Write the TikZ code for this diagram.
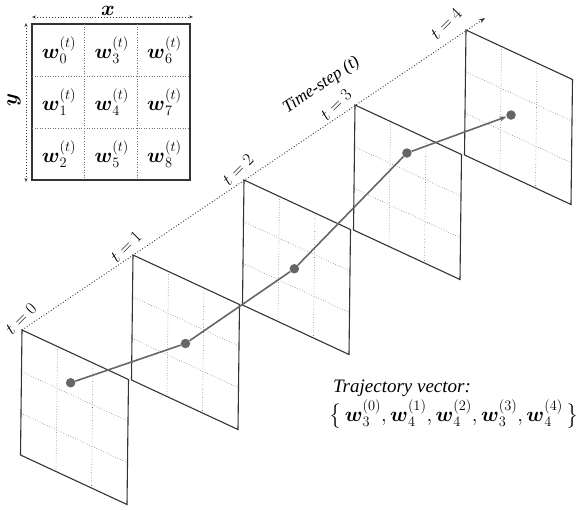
\documentclass[tikz,border=0pt]{standalone}
\usepackage{amsmath}
\usepackage{fontspec}
\setmainfont{Liberation Serif}
\usetikzlibrary{arrows.meta}

\tikzset{
    frame/.style = {draw = black!80, line width = 1.1pt},
    cellgrid/.style = {draw = black!55, dotted, line width = 0.6pt},
    traj/.style = {draw = black!60, line width = 1.6pt},
    dot/.style = {circle, fill = black!60, inner sep = 0pt, minimum size = 9.5pt},
    axis/.style = {draw = black!80, dotted, line width = 0.9pt},
}

\begin{document}
\begin{tikzpicture}[x = 1pt, y = -1pt]
            \useasboundingbox (0,0) rectangle (581,509);

            % layout of the weights in one frame
            \draw [frame] (32,24) rectangle (190,180);
            \draw [cellgrid] (84.7,24) -- (84.7,180) (137.3,24) -- (137.3,180)
            (32,76) -- (190,76) (32,128) -- (190,128);

            \foreach \c in {0,1,2}
                \foreach \r in {0,1,2} {
                    \pgfmathtruncatemacro{\idx}{3*\c+\r}
                    \node (w\idx) at (59+52.7*\c, 50+52*\r)
                    {\huge$\boldsymbol{w}_{\idx}^{(t)}$};
                }

            \coordinate (xa) at (32,17);
            \coordinate (xb) at (193,17);
            \coordinate (ya) at (26,23);
            \coordinate (yb) at (26,182);
            \draw [axis, {Stealth[length=4pt]}-{Stealth[length=4pt]}] (xa) -- (xb);
            \draw [axis, {Stealth[length=4pt]}-{Stealth[length=4pt]}] (ya) -- (yb);
            \node [inner sep = 0pt] (xlbl) at (108,11) {\huge$\boldsymbol{x}$};
            \node [rotate = 90, inner sep = 0pt] (ylbl) at (14,100) {\huge$\boldsymbol{y}$};

            % the frames along the time axis
            \foreach \i/\u/\v in {0/0.46/0.24, 1/0.5/0.51, 2/0.48/0.52,
                3/0.49/0.19, 4/0.43/0.51} {
                \begin{scope}[shift = {(22+111*\i, 330-75*\i)},
                    x = {(106.5pt,-49.5pt)}, y = {(-1.5pt,-125pt)}]
                    \draw [cellgrid] (1/3,0) -- (1/3,1) (2/3,0) -- (2/3,1)
                    (0,1/3) -- (1,1/3) (0,2/3) -- (1,2/3);
                    \draw [frame] (0,0) -- (1,0) -- (1,1) -- (0,1) -- cycle;
                    \coordinate (f\i) at (0,0);
                    \node [dot] (d\i) at (\u,\v) {};
                \end{scope}
            }

            \coordinate (tend) at (485,18);
            \draw [axis, -{Stealth[length=6pt]}] (f0) -- (tend)
            node [pos = 0.69, sloped, above = 24pt] (tlbl) {\LARGE\itshape Time-step (t)};

            \foreach \i/\p in {0/{(21,319)}, 1/{(126,247)}, 2/{(238,170)},
                3/{(336,105)}, 4/{(446,24)}}
                \node [rotate = 45, inner sep = 1pt] (t\i) at \p {\LARGE$t = \i$};

            \draw [traj] (d0) -- (d1) -- (d2) -- (d3);
            \draw [traj, -{Stealth[length=7pt]}] (d3) -- (d4);

            \node [anchor = base west, inner sep = 0pt] (trajlbl) at (333,392)
            {\fontsize{19}{23}\selectfont\itshape Trajectory vector:};
            \node [anchor = base west, inner sep = 0pt] (trajvec) at (329,421)
            {\huge$\bigl\{\,\boldsymbol{w}_3^{(0)}, \boldsymbol{w}_4^{(1)},
            \boldsymbol{w}_4^{(2)}, \boldsymbol{w}_3^{(3)}, \boldsymbol{w}_4^{(4)}\,\bigr\}$};
\end{tikzpicture}
\end{document}
